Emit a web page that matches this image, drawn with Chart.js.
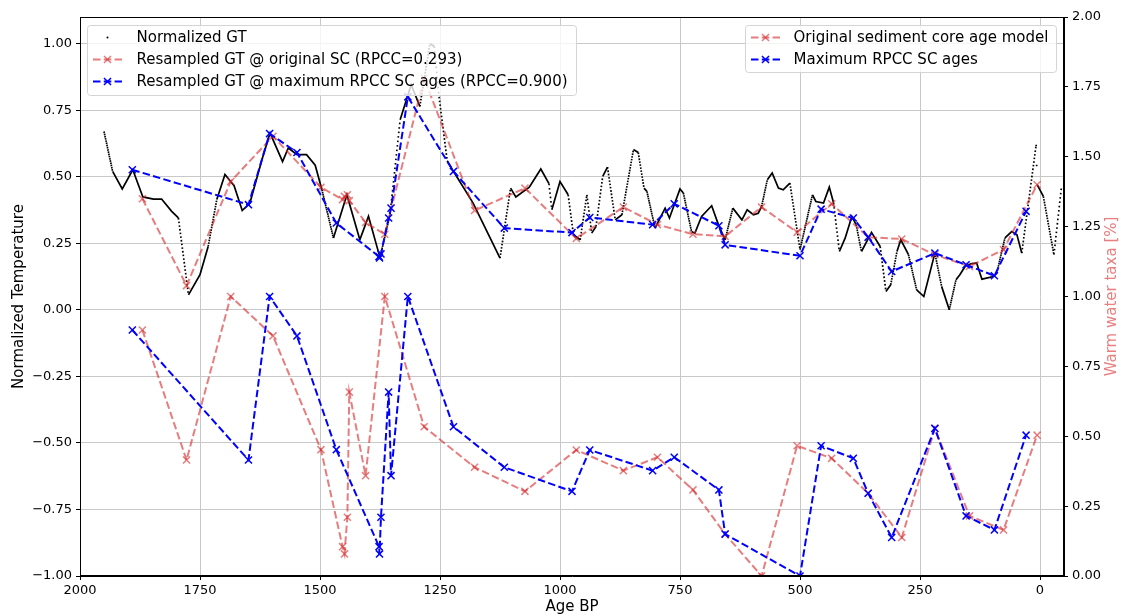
<!DOCTYPE html>
<html><head><meta charset="utf-8">
<script src="https://cdn.jsdelivr.net/npm/chart.js@4.4.1/dist/chart.umd.min.js"></script>
<style>html,body{margin:0;padding:0;background:#fff;}canvas{display:block;}</style>
</head><body>
<canvas id="c" width="1121" height="616"></canvas>
<script>
// ---- data ----
const gtAge = [1950,1932,1912,1890,1869,1847,1830,1809,1795,1774,1750,1733,1715,1698,1679,1662,1646,1621,1604,1578,1566,1548,1528,1510,1496,1472,1444,1417,1399,1375,1354,1333,1310,1292,1271,1262,1252,1235,1224,1181,1125,1103,1092,1064,1040,1023,1017,1000,983,972,958,944,934,925,911,901,885,871,847,837,825,819,802,781,772,750,743,726,719,705,684,670,656,640,621,610,597,587,580,568,558,545,535,521,500,474,467,451,439,430,418,406,392,383,372,351,333,321,311,298,290,274,257,242,219,205,189,175,167,156,144,132,121,97,90,73,59,48,38,8,6,-7,-29,-45];
const gtVal = [0.670,0.52,0.454,0.526,0.424,0.416,0.416,0.37,0.345,0.056,0.132,0.238,0.414,0.508,0.466,0.373,0.401,0.564,0.664,0.557,0.608,0.583,0.583,0.543,0.451,0.27,0.432,0.263,0.351,0.196,0.36,0.714,0.846,0.764,1.0,0.99,0.80,0.56,0.526,0.401,0.194,0.457,0.424,0.461,0.529,0.474,0.376,0.482,0.432,0.282,0.263,0.432,0.288,0.313,0.501,0.536,0.338,0.357,0.602,0.591,0.457,0.445,0.307,0.382,0.345,0.454,0.439,0.294,0.288,0.351,0.391,0.32,0.263,0.382,0.338,0.376,0.357,0.363,0.388,0.489,0.514,0.457,0.451,0.476,0.226,0.432,0.407,0.401,0.461,0.401,0.219,0.269,0.351,0.32,0.219,0.291,0.238,0.069,0.094,0.219,0.263,0.207,0.075,0.05,0.213,0.088,0.0,0.113,0.132,0.163,0.173,0.176,0.115,0.125,0.138,0.27,0.294,0.282,0.213,0.62,0.47,0.426,0.207,0.466];

const scAgeOrig = [1870,1778,1686,1598,1498,1453,1449,1443,1439,1405,1365,1283,1178,1073,966,868,797,723,656,580,506,434,358,288,219,147,76,6];
const scAgeRpcc = [1891,1649,1605,1548,1466,1377,1376,1373,1357,1352,1317,1222,1116,975,938,807,762,669,656,500,456,389,358,309,219,154,95,29];
const taxaVal = [0.88,0.415,1.0,0.859,0.452,0.105,0.079,0.21,0.658,0.359,1.0,0.534,0.389,0.303,0.451,0.377,0.425,0.308,0.150,0.0,0.466,0.421,0.296,0.138,0.528,0.215,0.165,0.504];
const gtAtOrig = [0.417,0.091,0.482,0.652,0.46,0.414,0.426,0.432,0.41,0.328,0.284,0.87,0.373,0.457,0.268,0.386,0.32,0.284,0.276,0.386,0.291,0.398,0.273,0.266,0.207,0.163,0.226,0.47];
const gtAtRpcc = [0.526,0.395,0.662,0.591,0.326,0.20,0.195,0.21,0.345,0.382,0.80,0.52,0.307,0.29,0.347,0.32,0.398,0.316,0.244,0.203,0.378,0.345,0.273,0.144,0.213,0.169,0.128,0.37];

const xTicks = [0,250,500,750,1000,1250,1500,1750,2000];
const yTicks = [-1,-0.75,-0.5,-0.25,0,0.25,0.5,0.75,1];
const y2Ticks = [0,0.25,0.5,0.75,1,1.25,1.5,1.75,2];

const labels = {
  gt: 'Normalized GT',
  rsOrig: 'Resampled GT @ original SC (RPCC=0.293)',
  rsRpcc: 'Resampled GT @ maximum RPCC SC ages (RPCC=0.900)',
  scOrig: 'Original sediment core age model',
  scRpcc: 'Maximum RPCC SC ages',
  xTitle: 'Age BP',
  yTitle: 'Normalized Temperature',
  y2Title: 'Warm water taxa [%]'
};

// ---- styles ----
const FONT = '"DejaVu Sans", Verdana, sans-serif';
const RED = 'rgba(214,39,40,0.6)';
const BLUE = '#0000ff';
const DASH = [7.5, 3.3];
const Y2_TITLE_COLOR = '#e8807f';

function pts(xs, ys) { return xs.map((x, i) => ({x: x, y: ys[i]})); }
function fmt(v) { return v.toFixed(2).replace('-', '\u2212'); }

function gtDash(ctx) {
  const yrs = Math.abs(gtAge[ctx.p1DataIndex] - gtAge[ctx.p0DataIndex]) || 1;
  const d = Math.hypot(ctx.p1.x - ctx.p0.x, ctx.p1.y - ctx.p0.y) / yrs;
  if (d < 2.0) return undefined;
  return [1.6, Math.max(d - 1.6, 0.6)];
}

function markerSet(color, axis, order, label, xs, ys) {
  return {
    label: label, data: pts(xs, ys), yAxisID: axis, order: order,
    borderColor: color, borderWidth: 2, borderDash: DASH,
    pointStyle: 'crossRot', pointRadius: 5, pointHoverRadius: 5,
    pointBorderColor: color, pointBorderWidth: 1.5, pointBackgroundColor: 'rgba(0,0,0,0)',
    fill: false, tension: 0
  };
}

const framePlugin = {
  id: 'frame',
  afterDatasetsDraw(chart) {
    const a = chart.chartArea, ctx = chart.ctx;
    ctx.save();
    ctx.strokeStyle = '#000'; ctx.lineWidth = 1;
    ctx.strokeRect(Math.round(a.left) + 0.5, Math.round(a.top) + 0.5, Math.round(a.right - a.left) - 1, Math.round(a.bottom - a.top) - 1);
    ctx.restore();
  }
};

function roundRect(ctx, x, y, w, h, r) {
  ctx.beginPath();
  ctx.moveTo(x + r, y);
  ctx.lineTo(x + w - r, y); ctx.arcTo(x + w, y, x + w, y + r, r);
  ctx.lineTo(x + w, y + h - r); ctx.arcTo(x + w, y + h, x + w - r, y + h, r);
  ctx.lineTo(x + r, y + h); ctx.arcTo(x, y + h, x, y + h - r, r);
  ctx.lineTo(x, y + r); ctx.arcTo(x, y, x + r, y, r);
  ctx.closePath();
}

function drawLegend(ctx, chart, box, items) {
  ctx.save();
  roundRect(ctx, box.x, box.y, box.w, box.h, 3);
  ctx.fillStyle = 'rgba(255,255,255,0.8)';
  ctx.fill();
  ctx.strokeStyle = '#d4d4d4'; ctx.lineWidth = 1;
  ctx.stroke();
  items.forEach((it, i) => {
    const ds = chart.data.datasets[it];
    const cy = box.row0 + i * 22;
    const hx0 = box.hx, hx1 = box.hx + 29, hc = (hx0 + hx1) / 2;
    if (ds.pointRadius === 0) {
      ctx.fillStyle = '#000';
      ctx.beginPath(); ctx.arc(hc, cy, 1, 0, Math.PI * 2); ctx.fill();
    } else {
      ctx.strokeStyle = ds.borderColor; ctx.lineWidth = 2;
      ctx.setLineDash(DASH);
      ctx.beginPath(); ctx.moveTo(hx0, cy); ctx.lineTo(hx1, cy); ctx.stroke();
      ctx.setLineDash([]);
      ctx.lineWidth = 1.5;
      const o = 5 * Math.cos(Math.PI / 4);
      ctx.beginPath();
      ctx.moveTo(hc - o, cy - o); ctx.lineTo(hc + o, cy + o);
      ctx.moveTo(hc - o, cy + o); ctx.lineTo(hc + o, cy - o);
      ctx.stroke();
    }
    ctx.fillStyle = '#000';
    ctx.font = '15px ' + FONT;
    ctx.textBaseline = 'middle';
    ctx.textAlign = 'left';
    ctx.fillText(ds.label, box.tx, cy + 1);
  });
  ctx.restore();
}

// right-axis title, rotated to read bottom-to-top as in the reference
const y2TitlePlugin = {
  id: 'y2Title',
  afterDraw(chart) {
    const s = chart.scales.y2, ctx = chart.ctx;
    ctx.save();
    ctx.translate(s.right - 9, (s.top + s.bottom) / 2);
    ctx.rotate(-Math.PI / 2);
    ctx.fillStyle = Y2_TITLE_COLOR;
    ctx.font = '15px ' + FONT;
    ctx.textAlign = 'center';
    ctx.textBaseline = 'middle';
    ctx.fillText(labels.y2Title, 0, 0);
    ctx.restore();
  }
};

const legendPlugin = {
  id: 'boxLegends',
  afterDraw(chart) {
    const ctx = chart.ctx;
    drawLegend(ctx, chart, {x: 87.5, y: 25.5, w: 489, h: 70, row0: 37.5, hx: 93, tx: 136.5}, [0, 1, 2]);
    drawLegend(ctx, chart, {x: 745.5, y: 25.5, w: 311, h: 47, row0: 37.5, hx: 751, tx: 793.5}, [3, 4]);
  }
};

const tickFont = {family: FONT, size: 13};
const titleFont = {family: FONT, size: 15};

new Chart(document.getElementById('c'), {
  type: 'line',
  data: {
    datasets: [
      {
        label: labels.gt, data: pts(gtAge, gtVal), yAxisID: 'y', order: 6,
        borderColor: '#000', borderWidth: 1.7, pointRadius: 0, pointHoverRadius: 0,
        fill: false, tension: 0,
        segment: { borderDash: gtDash }
      },
      markerSet(RED, 'y', 5, labels.rsOrig, scAgeOrig, gtAtOrig),
      markerSet(BLUE, 'y', 4, labels.rsRpcc, scAgeRpcc, gtAtRpcc),
      markerSet(RED, 'y2', 3, labels.scOrig, scAgeOrig, taxaVal),
      markerSet(BLUE, 'y2', 2, labels.scRpcc, scAgeRpcc, taxaVal)
    ]
  },
  options: {
    responsive: false, animation: false, devicePixelRatio: 1,
    events: [],
    layout: {padding: {top: 17, left: 0, right: 0, bottom: 0}},
    plugins: {legend: {display: false}, tooltip: {enabled: false}},
    scales: {
      x: {
        type: 'linear', reverse: true, min: -50, max: 2000,
        afterBuildTicks: s => { s.ticks = xTicks.map(v => ({value: v})); },
        afterFit: s => { s.height = 40; },
        ticks: {font: tickFont, color: '#000', padding: 3, maxRotation: 0, autoSkip: false, callback: v => String(v)},
        grid: {color: '#c8c8c8', lineWidth: 1, tickColor: '#000', tickLength: 4},
        border: {display: true, color: '#000', width: 1},
        title: {display: true, text: labels.xTitle, font: titleFont, color: '#000', padding: {top: 0, bottom: 0}}
      },
      y: {
        type: 'linear', position: 'left', min: -1, max: 1.1,
        afterBuildTicks: s => { s.ticks = yTicks.map(v => ({value: v})); },
        afterFit: s => { s.width = 80; },
        ticks: {font: tickFont, color: '#000', padding: 4, autoSkip: false, callback: v => fmt(v)},
        grid: {color: '#c8c8c8', lineWidth: 1, tickColor: '#000', tickLength: 4},
        border: {display: true, color: '#000', width: 1},
        title: {display: true, text: labels.yTitle, font: titleFont, color: '#000', padding: {top: 10, bottom: 0}}
      },
      y2: {
        type: 'linear', position: 'right', min: 0, max: 2,
        afterBuildTicks: s => { s.ticks = y2Ticks.map(v => ({value: v})); },
        afterFit: s => { s.width = 57; },
        ticks: {font: tickFont, color: '#000', padding: 4, autoSkip: false, callback: v => fmt(v)},
        grid: {drawOnChartArea: false, tickColor: '#000', tickLength: 4},
        border: {display: true, color: '#000', width: 1},
        title: {display: false}
      }
    }
  },
  plugins: [framePlugin, y2TitlePlugin, legendPlugin]
});
</script>
</body></html>
